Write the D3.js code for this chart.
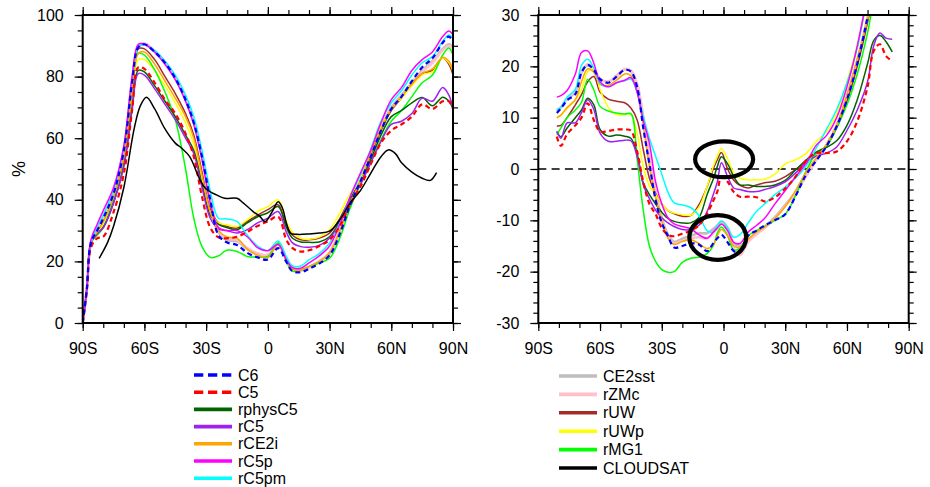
<!DOCTYPE html>
<html>
<head>
<meta charset="utf-8">
<script src="https://cdn.jsdelivr.net/npm/d3@7"></script>
<style>
  body { margin: 0; background: #fff; }
  svg text { font-family: "Liberation Sans", Arial, Helvetica, sans-serif; fill: #000; }
</style>
</head>
<body>
<svg id="chart" width="930" height="487"></svg>
<script>
// ---- data ----
// left panel: cloud cover (%) on latitude
var latCov = [-90,-88,-86,-83,-80,-75,-70,-66,-63,-60,-55,-50,-45,-40,-36,-32,-28,-24,-20,-15,-10,-5,0,5,9,12,16,20,25,30,35,40,45,50,55,60,65,70,75,80,85,88,90];

var covC6    = [0,11,26,30, 34,42,56,78, 89.5,90.5,88,84.5, 79.5,72.5,65,54, 40,28.5,26.2,25.3, 22.8,21.3,20.6,24.3, 19.8,16.8,16.5,17.6, 19.3,22,29,38.4, 46,54,62.5,69.5, 73.5,78.5,83,86, 91,93,91.3];
var covC5    = [0,10.5,24.5,27.5, 28,36,48.5,69, 83,82.5,78,72.5, 68,61.5,54,41, 31,27.8,27.5,28, 29.6,31.5,33,34.5, 27,24.3,23.2,23.6, 25,27,31.5,38.5, 44.3,51.5,58.5,62.5, 64.5,67,71,69.5, 72,72,69.5];
var covPhys  = [0,11,26,29, 31,39,51,70, 82,81.5,77,72, 67,61,56,45, 35,32,31,30.3, 32.5,34.5,35.8,37.8, 31,27.5,26.3,26.2, 26.3,28,33,40, 45.5,53,61,67, 69,71.5,73.2,70.5, 73.3,72,69.7];
var covRC5   = [0,11,26,29, 31,39,51,69, 81,80.5,76,71, 66,60,55,44, 34,30.5,30,29.2, 30.3,32.5,34,36.2, 29.5,26,24.8,24.6, 25.2,27.5,32.5,39.5, 45,52,59,64.5, 65.5,68,73,72, 76.5,74,69.7];
var covCE2i  = [0,11,26,29.5, 33,41,54,75, 87.5,88,84,78.5, 73,67,60,48, 36,30,28,27.5, 24,22,21.2,25.5, 20.5,17.5,17.2,18.3, 20,22.8,30,39, 46,55,63,69.5, 73.5,77.5,81,82.5, 86.3,85,82];
var covC5p   = [0,11,27,32, 36.5,44,57.5,80, 90.5,90.5,88,84, 79,72,64.5,53, 39,31,30,30, 28,24.5,23.5,25.5, 20.5,18,17.8,19.5, 21.8,25,32,41, 48.7,56,65,72.5, 76.5,82,85.5,88, 93,94.8,93.5];
var covC5pm  = [0,11,26,31, 35,43,57,79, 89.5,90.5,88.5,85, 80.5,74,67,56, 43,34,33.8,33, 28.5,25,23.5,26.6, 21.5,18.5,18.5,20.5, 22.5,26,32.5,41, 48,56.5,65.5,71.5, 75.5,80.5,84.5,86.5, 91.5,93.5,92.5];
var covCE2sst= [0,11,26,30, 34,42,56,78, 89.5,90.5,88,84.5, 79.5,72.5,65,54, 40,29.5,27,26.5, 24,22.5,22,25.8, 21,17.5,17.2,18.2, 20,22.5,30,39, 46,55,63.5,70, 74,78,82,85, 89,90.5,89.5];
var covZMc   = [0,11,26,30, 34.5,42.5,56.5,78.5, 89.8,90.8,88.3,84.8, 79.8,72.8,65.3,54.3, 40.5,30,27.5,27, 24.3,22.6,22.2,25.8, 21,17.5,17,18, 20,23,30,39, 46,54.5,63,69.5, 73.5,77.5,81.5,84.5, 88.5,90,89];
var covUW    = [0,11,26,29, 32,40,53,76, 89,89,85.5,80, 74.5,68,61,49, 37,32.5,31.4,30.8, 33,35,36.8,38.4, 32,28.5,27,27, 27.6,29.2,34,40.5, 46,54.5,62.5,69, 73,77.5,81,82, 86,84,80.5];
var covUWp   = [0,11,26,29, 32,40,53,74, 85.5,85.5,82,77, 71.5,65,58,47, 36,32.5,31.9,31.4, 33.5,36.2,37.8,40, 33,29.5,27.5,27.2, 27.9,30.3,35.7,42, 47,56,63.5,69.5, 73,77,80.5,81.5, 86,84.5,82];
var covMG1   = [0,11,26,28.5, 31,40,53,75, 87.5,87,82.2,75, 66,50,34,24.8, 21.3,21.8,23.6,23.2, 21.6,21.4,21.6,26, 20,16.8,17.1,18.4, 19.5,21,27.6,37.3, 44.9,52,59.5,65.5, 69,73.5,78,80.5, 87,89.3,87];

var latCloudsat = [-82,-78,-75,-70,-65,-62,-59,-55,-50,-45,-42,-38,-33,-30,-25,-21,-15,-12,-7,-4,-1.3,2,5,7,9,11,14,20,25,30,35,40,45,50,55,58.5,62,65,70,75,79,82];
var covCloudsat = [21,26,31.4,44, 63,70.5,73.3,69.5, 63,58.4,56.8,54, 46.5,43.5,41.6,40.5, 40.5,39,36.1,34.7, 32.9,36,39.4,37.5, 32.5,29.2,28.8,28.9, 29.2,29.8,33.5,39, 43,48.6,54,56.2, 55,52,49,47, 46.3,48.8];

// right panel: model minus CLOUDSAT
var latDiff = [-81,-79,-76,-72,-69,-66,-63,-60,-56,-52,-48,-45,-42,-39,-36,-33,-30,-27,-24,-20,-16,-12,-8,-5,-3,-1,2,5,8,12,16,20,25,30,35,40,45,50,55,60,65,70,73,76,79,82];

var diffC6    = [10.9,11.8,13.4,14.6, 18.8,20.3,19.3,17.5, 16.8,18,19.3,19, 16,8,1,-6, -10.5,-13,-15.3,-15, -14.5,-14.7,-16,-14.5, -13.5,-12.8,-14.3,-16, -16.3,-13,-12,-11, -10,-8.8,-5.3,-1.2, 1.6,4.4,8.3,13.5, 20.5,29.5,35,40, 42,44];
var diffC5    = [6.3,4.5,6.8,8.5, 10,12.8,9.5,7.3, 7.4,7.7,7.7,7.5, 3.5,-2.5,-6.8,-8.8, -11.5,-12.8,-13.1,-12.6, -12,-11,-8.7,-6.2, -4.4,-1.5,-2.5,-4.5, -5.4,-5.4,-5.5,-6.3, -5.5,-3.8,-1.5,1.6, 3.1,3.1,3.4,5.4, 9.3,16,23,24.3, 22,21];
var diffPhys  = [7.3,6.3,8,10, 11.5,13.8,12.5,7.7, 6.4,6.6,6.4,6, 3,-2.7,-5,-6.8, -8.4,-9.6,-10.2,-10.5, -10.5,-9.5,-5,-2, 0.5,2.4,1,-1.5, -3.1,-3.1,-3.4,-3.4, -3.1,-2.2,-0.2,1.7, 3.3,4.2,5.5,8.5, 13.5,20.5,25,26, 24.8,22.8];
var diffRC5   = [7.3,6,9,9, 11,13.5,11.6,7, 5.4,5.4,5.6,5.5, 2.5,-3,-5.8,-8, -9.5,-10.5,-11.2,-11.8, -11.8,-11,-8.3,-5, -2.5,1.2,-1.5,-3.7, -4,-4.4,-4.4,-4, -3.4,-2.5,-0.8,1.2, 2.5,3.1,4.3,7.5, 11.5,17,24,26.5, 25.5,25.3];
var diffCE2i  = [10,10.5,12,13.5, 17,19.5,18.8,16.5, 16.3,17.3,18.5,18.2, 15,8.5,0.5,-5.5, -10,-13.4,-14.7,-14.1, -13.8,-14.5,-15.5,-14.8, -13,-11.8,-13,-15, -15.3,-13.7,-12.3,-11.3, -9.6,-7.3,-4.2,-0.7, 2.1,4.8,8.5,14.5, 21.5,29,35,40, 42,44];
var diffC5p   = [14,14.3,15.3,18.5, 22.7,23,20.6,17, 16,16.8,17.3,17.8, 15,9.5,5,-2.5, -6.8,-9.5,-10.7,-11.2, -11.6,-12.8,-13.5,-12.3, -11.5,-10.7,-12,-14.3, -14.5,-12.3,-11,-9.6, -6.8,-4.2,-1.5,1, 4.6,6.5,10,16, 24,34,40,45, 48,50];
var diffC5pm  = [11.5,12,14,15.5, 20.2,21.4,19.7,16.7, 16,16.8,17.2,17.5, 15,10.3,6,2.5, -1,-4.5,-6.6,-7, -7.5,-9,-12,-12.3, -11,-10.2,-11.5,-13.3, -12.8,-10.5,-8.3,-6.8, -5,-3.5,-1.8,0.5, 4,7.7,11.6,16.8, 23.5,34,40,45, 48,50];
var diffCE2sst= [11.5,12,13.6,15, 18.8,20.2,19.3,17.5, 17,18,19.4,19, 16.5,10,2,-4.5, -9.5,-12.8,-14.2,-13.6, -13,-12.5,-12.5,-11.7, -11,-10.2,-11.5,-14.5, -15,-13.8,-12.5,-11.3, -9.4,-7,-4.6,-1.3, 1.8,4.6,8.5,14, 21,29.5,35,40, 42,44];
var diffZMc   = [11.3,12,13.8,15.2, 19,20.4,19.5,17.6, 17,18.2,19.5,19.2, 16.6,10,2,-4.8, -10,-13.3,-14.5,-14, -13.5,-13.3,-13.5,-12.5, -11.5,-10.5,-12,-15.5, -16.8,-14.2,-12.7,-11.5, -9.6,-7.2,-4.8,-1.5, 1.7,4.5,8.4,13.8, 20.8,29.3,35,40, 42,44];
var diffUW    = [8.4,8.5,10,12.5, 14.5,17,18,15, 13.6,13.2,12.9,11.9, 9.6,3.8,-1.8,-4.8, -6.8,-8.1,-8.7,-9.2, -9.1,-7,-3.5,0, 1.8,3.2,0,-2.2, -3.2,-3.7,-3.1,-2.7, -2.4,-1.5,-0.1,1.2, 3,4.5,8,13.2, 20,28.5,35,40, 42,44];
var diffUWp   = [9.9,10.5,11.8,13.5, 15.5,19,19.5,15.5, 12,10.6,10.6,10.6, 7,0.5,-3.3,-5, -6.8,-8.1,-8.6,-8.9, -9,-7.5,-3.4,0.5, 2.5,4,2,-0.8, -1.8,-2.1,-2.1,-2, -1,1,1.8,3, 5.3,7.2,10.8,17, 24,33,40,45, 48,50];
var diffMG1   = [6.7,8,10,11.5, 13,17.5,15.4,12.2, 11.3,10.9,10.7,10.8, 2,-8,-15,-18, -19.6,-20.1,-20,-18.2, -17.4,-17.2,-16.5,-15, -12.5,-11.3,-13,-15.8, -15.4,-13,-12,-11.2, -10,-8.8,-5.2,-0.5, 3,4.5,8,12.5, 18.5,26.5,33,38, 42,44];

// the two circled tropical peaks (lat, value, radius in deg, radius in value)
var circleLat = [0.3, -2.8];
var circleVal = [1.9, -13.35];
var circleRLat = [14.1, 13.8];
var circleRVal = [3.5, 4.35];

var latTicks = [-90, -60, -30, 0, 30, 60, 90];

// legend columns
var legendLeft = ["C6", "C5", "rphysC5", "rC5", "rCE2i", "rC5p", "rC5pm"];
var legendRight = ["CE2sst", "rZMc", "rUW", "rUWp", "rMG1", "CLOUDSAT"];

// ---- build series table ----
var series = [
  {name: "CE2sst",  color: "#bebebe", width: 2.6, cov: covCE2sst, diff: diffCE2sst},
  {name: "rZMc",    color: "#ffc0cb", width: 2.6, cov: covZMc,    diff: diffZMc},
  {name: "rUW",     color: "#a52a2a", width: 1.5, cov: covUW,     diff: diffUW},
  {name: "rUWp",    color: "#ffff00", width: 1.5, cov: covUWp,    diff: diffUWp},
  {name: "rMG1",    color: "#00ff00", width: 1.5, cov: covMG1,    diff: diffMG1},
  {name: "rphysC5", color: "#006400", width: 1.5, cov: covPhys,   diff: diffPhys},
  {name: "rC5",     color: "#a020f0", width: 1.5, cov: covRC5,    diff: diffRC5},
  {name: "rCE2i",   color: "#ffa500", width: 1.5, cov: covCE2i,   diff: diffCE2i},
  {name: "rC5pm",   color: "#00ffff", width: 1.5, cov: covC5pm,   diff: diffC5pm},
  {name: "rC5p",    color: "#ff00ff", width: 1.5, cov: covC5p,    diff: diffC5p},
  {name: "C5",      color: "#ff0000", width: 2.2, dash: true, cov: covC5, diff: diffC5},
  {name: "C6",      color: "#0000ff", width: 2.2, dash: true, cov: covC6, diff: diffC6},
  {name: "CLOUDSAT",color: "#000000", width: 1.5}
];
var byName = {};
series.forEach(function (s) { byName[s.name] = s; });

var svg = d3.select("#chart");
var plotTop = 15, plotBottom = 323;

function latLabel(d) {
  if (d === 0) return "0";
  return Math.abs(d) + (d < 0 ? "S" : "N");
}

//draws one framed panel and returns its scales
function drawPanel(id, x0, x1, yDomain, yMajor, yMinorStep) {
  var x = d3.scaleLinear().domain([-90, 90]).range([x0, x1]);
  var y = d3.scaleLinear().domain(yDomain).range([plotBottom, plotTop]);
  var g = svg.append("g").attr("id", id);

  g.append("clipPath").attr("id", id + "-clip")
    .append("rect")
    .attr("x", x0).attr("y", plotTop)
    .attr("width", x1 - x0).attr("height", plotBottom - plotTop);

  var xMinor = d3.range(-90, 91, 10);
  var yMinor = d3.range(yDomain[0], yDomain[1] + 0.001, yMinorStep);

  //minor ticks on all four sides
  g.append("g").attr("transform", "translate(0," + plotBottom + ")")
    .call(d3.axisBottom(x).tickValues(xMinor).tickSize(5).tickFormat(""));
  g.append("g").attr("transform", "translate(0," + plotTop + ")")
    .call(d3.axisTop(x).tickValues(xMinor).tickSize(5).tickFormat(""));
  g.append("g").attr("transform", "translate(" + x0 + ",0)")
    .call(d3.axisLeft(y).tickValues(yMinor).tickSize(5).tickFormat(""));
  g.append("g").attr("transform", "translate(" + x1 + ",0)")
    .call(d3.axisRight(y).tickValues(yMinor).tickSize(5).tickFormat(""));

  //major ticks, labels only bottom and left
  g.append("g").attr("class", "xlab").attr("transform", "translate(0," + plotBottom + ")")
    .call(d3.axisBottom(x).tickValues(latTicks).tickSize(8).tickPadding(12).tickFormat(latLabel));
  g.append("g").attr("transform", "translate(0," + plotTop + ")")
    .call(d3.axisTop(x).tickValues(latTicks).tickSize(8).tickFormat(""));
  g.append("g").attr("class", "ylab").attr("transform", "translate(" + x0 + ",0)")
    .call(d3.axisLeft(y).tickValues(yMajor).tickSize(8).tickPadding(11).tickFormat(function (d) { return String(d); }));
  g.append("g").attr("transform", "translate(" + x1 + ",0)")
    .call(d3.axisRight(y).tickValues(yMajor).tickSize(8).tickFormat(""));

  g.selectAll(".domain").remove();
  g.selectAll(".tick line").attr("stroke", "#000").attr("stroke-width", 1.2);
  g.selectAll(".tick text").style("font-size", "16px").attr("fill", "#000");

  return {g: g, x: x, y: y, clip: "url(#" + id + "-clip)", x0: x0, x1: x1};
}

function drawCurves(p, key, latArr) {
  var line = d3.line()
    .defined(function (d) { return d[1] != null; })
    .x(function (d) { return p.x(d[0]); })
    .y(function (d) { return p.y(d[1]); })
    .curve(d3.curveCatmullRom.alpha(0.5));

  var lines = p.g.append("g").attr("clip-path", p.clip);
  series.forEach(function (s) {
    var pts;
    if (s.name === "CLOUDSAT") {
      if (key !== "cov") return; // no CLOUDSAT curve in the difference panel
      pts = latCloudsat.map(function (lat, i) { return [lat, covCloudsat[i]]; });
    } else {
      pts = latArr.map(function (lat, i) { return [lat, s[key][i]]; });
    }
    lines.append("path")
      .datum(pts)
      .attr("d", line)
      .attr("fill", "none")
      .attr("stroke", s.color)
      .attr("stroke-width", s.width)
      .attr("stroke-dasharray", s.dash ? "5,3.5" : null)
      .attr("stroke-linejoin", "round");
  });
  return lines;
}

function frame(p) {
  p.g.append("rect")
    .attr("x", p.x0).attr("y", plotTop)
    .attr("width", p.x1 - p.x0).attr("height", plotBottom - plotTop)
    .attr("fill", "none").attr("stroke", "#000").attr("stroke-width", 2);
}

// ---- left panel ----
var left = drawPanel("cov", 82.7, 453, [0, 100], d3.range(0, 101, 20), 5);
drawCurves(left, "cov", latCov);
frame(left);

svg.append("text")
  .attr("transform", "translate(25,169) rotate(-90)")
  .attr("text-anchor", "middle")
  .style("font-size", "18px")
  .text("%");

// ---- right panel ----
var right = drawPanel("diff", 538.3, 908.7, [-30, 30], d3.range(-30, 31, 10), 2);
right.g.append("line")
  .attr("x1", right.x0).attr("x2", right.x1)
  .attr("y1", right.y(0)).attr("y2", right.y(0))
  .attr("stroke", "#000").attr("stroke-width", 1.6)
  .attr("stroke-dasharray", "8,5.3");
drawCurves(right, "diff", latDiff);
frame(right);

//black rings round the tropical peaks
circleLat.forEach(function (lat, i) {
  right.g.append("ellipse")
    .attr("cx", right.x(lat))
    .attr("cy", right.y(circleVal[i]))
    .attr("rx", right.x(lat + circleRLat[i]) - right.x(lat))
    .attr("ry", right.y(circleVal[i] - circleRVal[i]) - right.y(circleVal[i]))
    .attr("fill", "none")
    .attr("stroke", "#000")
    .attr("stroke-width", 4.2);
});

// ---- legends ----
function legend(names, lx, ly, step) {
  var lg = svg.append("g");
  names.forEach(function (n, i) {
    var s = byName[n];
    var yy = ly + i * step;
    lg.append("line")
      .attr("x1", lx).attr("x2", lx + 38)
      .attr("y1", yy).attr("y2", yy)
      .attr("stroke", s.color)
      .attr("stroke-width", 3.6)
      .attr("stroke-dasharray", s.dash ? "9.3,4.7" : null);
    lg.append("text")
      .attr("x", lx + 44).attr("y", yy)
      .attr("dy", "0.35em")
      .style("font-size", "16px")
      .text(n);
  });
}
legend(legendLeft, 194, 375, 17.2);
legend(legendRight, 559, 376, 18.4);
</script>
</body>
</html>
